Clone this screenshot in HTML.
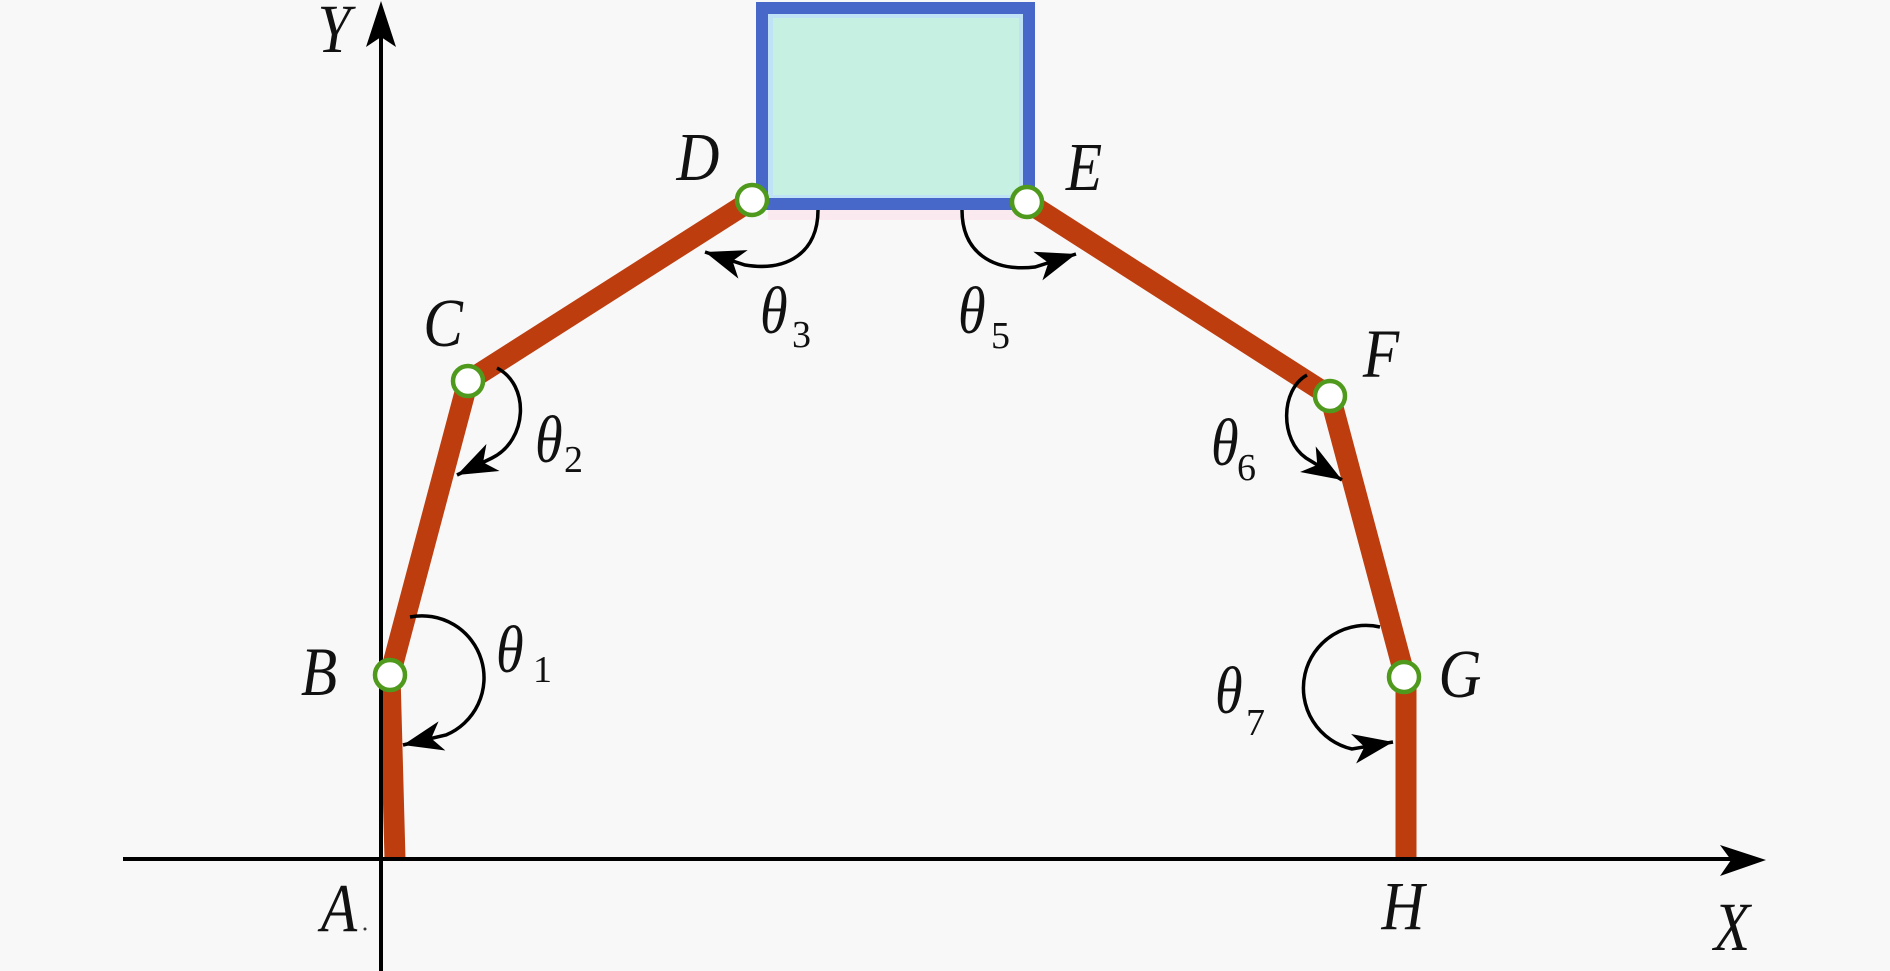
<!DOCTYPE html>
<html>
<head>
<meta charset="utf-8">
<style>
  html,body{margin:0;padding:0;background:#f8f8f8;}
  svg{display:block;}
  .lbl{font-family:"Liberation Serif",serif;font-style:italic;font-size:66px;fill:#111;}
  .th{font-family:"Liberation Serif",serif;font-style:italic;font-size:64px;fill:#111;}
  .sub{font-family:"Liberation Serif",serif;font-size:38px;fill:#111;}
</style>
</head>
<body>
<svg width="1890" height="971" viewBox="0 0 1890 971" xmlns="http://www.w3.org/2000/svg">
  <defs>
    <marker id="ah" markerUnits="userSpaceOnUse" markerWidth="50" markerHeight="40" refX="40" refY="15" orient="auto" viewBox="0 0 50 40" overflow="visible">
      <path d="M40,15 L0,0 L11,15 L0,30 Z" fill="#000"/>
    </marker>
  </defs>
  <rect x="0" y="0" width="1890" height="971" fill="#f8f8f8"/>

  <!-- platform box -->
  <rect x="768" y="210" width="255" height="10" fill="#fae9ee"/>
  <rect x="756" y="2" width="279" height="208" fill="#4768c9"/>
  <rect x="768" y="14" width="255" height="184" fill="#bfe2f6"/>
  <rect x="773" y="18" width="246" height="177" fill="#c6f1e2"/>

  <!-- links -->
  <g stroke="#bd3d0e" stroke-width="21" stroke-linecap="butt" fill="none">
    <line x1="395" y1="859" x2="390" y2="675"/>
    <line x1="390" y1="675" x2="468" y2="381"/>
    <line x1="468" y1="381" x2="752" y2="200"/>
    <line x1="1027" y1="202" x2="1330" y2="396"/>
    <line x1="1330" y1="396" x2="1405" y2="677"/>
    <line x1="1406" y1="677" x2="1406" y2="859"/>
  </g>

  <!-- axes -->
  <line x1="381" y1="971" x2="381" y2="30" stroke="#000" stroke-width="4"/>
  <path d="M381,1 L366,47 L381,37 L396,47 Z" fill="#000"/>
  <line x1="123" y1="859" x2="1735" y2="859" stroke="#000" stroke-width="4"/>
  <path d="M1766,860 L1720,845 L1731,860 L1720,876 Z" fill="#000"/>

  <!-- joints -->
  <g fill="#ffffff" stroke="#4f9a1c" stroke-width="4.5">
    <circle cx="390" cy="675" r="15"/>
    <circle cx="468" cy="381" r="15"/>
    <circle cx="752" cy="200" r="15"/>
    <circle cx="1027" cy="202" r="15"/>
    <circle cx="1330" cy="396" r="15"/>
    <circle cx="1404" cy="677" r="15"/>
  </g>

  <!-- angle arcs -->
  <g fill="none" stroke="#000" stroke-width="3.5" marker-end="url(#ah)">
    <path d="M410,617 A62,62 0 0 1 446,735 L403,745"/>
    <path d="M497,368 C530,385 528,440 492,458 L457,475"/>
    <path d="M818,210 C818,252 788,272 745,265 L705,252"/>
    <path d="M962,210 C962,252 992,272 1035,267 L1076,254"/>
    <path d="M1307,375 C1280,390 1280,440 1306,458 L1342,480"/>
    <path d="M1380,627 A62,62 0 1 0 1352,749 L1393,742"/>
  </g>

  <!-- point labels -->
  <text class="lbl" transform="translate(334,52) scale(0.9,1.04)" text-anchor="middle">Y</text>
  <text class="lbl" transform="translate(339,931) scale(0.9,1.04)" text-anchor="middle">A</text>
  <circle cx="365" cy="929" r="1.5" fill="#333"/>
  <text class="lbl" transform="translate(319,695) scale(0.9,1.04)" text-anchor="middle">B</text>
  <text class="lbl" transform="translate(443,346) scale(0.9,1.04)" text-anchor="middle">C</text>
  <text class="lbl" transform="translate(698,180) scale(0.9,1.04)" text-anchor="middle">D</text>
  <text class="lbl" transform="translate(1084,190) scale(0.9,1.04)" text-anchor="middle">E</text>
  <text class="lbl" transform="translate(1381,377) scale(0.9,1.04)" text-anchor="middle">F</text>
  <text class="lbl" transform="translate(1460,697) scale(0.9,1.04)" text-anchor="middle">G</text>
  <text class="lbl" transform="translate(1403,929) scale(0.9,1.04)" text-anchor="middle">H</text>
  <text class="lbl" transform="translate(1732,950) scale(0.9,1.04)" text-anchor="middle">X</text>

  <!-- theta labels -->
  <text class="th" transform="translate(496,672) scale(0.88,1.05)">θ</text><text class="sub" x="533" y="682">1</text>
  <text class="th" transform="translate(535,462) scale(0.88,1.05)">θ</text><text class="sub" x="564" y="472">2</text>
  <text class="th" transform="translate(760,333) scale(0.88,1.05)">θ</text><text class="sub" x="792" y="347">3</text>
  <text class="th" transform="translate(958,333) scale(0.88,1.05)">θ</text><text class="sub" x="991" y="348">5</text>
  <text class="th" transform="translate(1211,465) scale(0.88,1.05)">θ</text><text class="sub" x="1237" y="480">6</text>
  <text class="th" transform="translate(1215,713) scale(0.88,1.05)">θ</text><text class="sub" x="1246" y="735">7</text>
</svg>
</body>
</html>
